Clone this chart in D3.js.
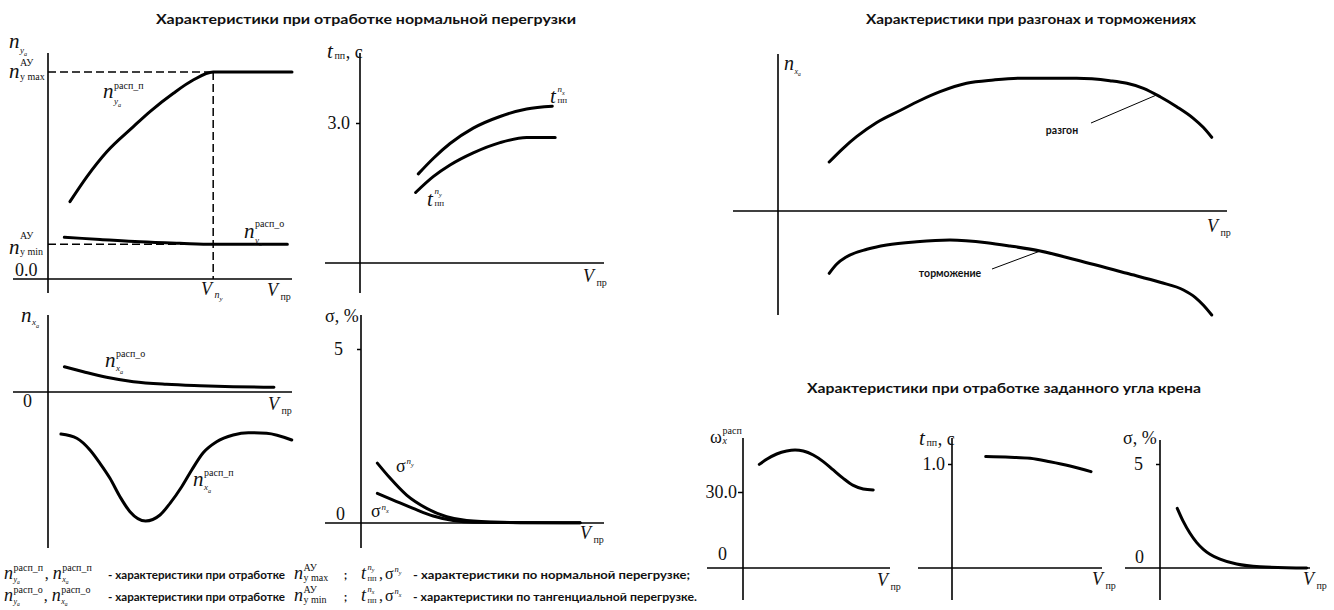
<!DOCTYPE html>
<html><head><meta charset="utf-8">
<script src="https://cdn.jsdelivr.net/npm/d3@7"></script>
<style>
html,body{margin:0;padding:0;background:#fff;}
svg{display:block;}
.serif{font-family:"Liberation Serif","Times New Roman",serif;fill:#111;}
.sans{font-family:Lato,"Open Sans",sans-serif;font-weight:bold;fill:#111;}
</style></head><body>
<svg id="chart" width="1334" height="610"></svg>
<script>
// ---------- data (V_пр in relative units 0..100) ----------
// n_ya, normal load factor
const nyPV   = [9.0, 15.9, 24.1, 35.0, 41.8, 51.4, 59.5, 67.7, 100];
const nyP    = [2.99, 3.95, 4.92, 5.89, 6.47, 7.18, 7.69, 8.0, 8.0];
const nyOV   = [6.7, 21.3, 37.7, 54.1, 67.7, 98.1];
const nyO    = [1.61, 1.53, 1.44, 1.38, 1.34, 1.34];
const nyMaxAU = 8.0, nyMinAU = 1.34, vNy = 67.7;
// transient time, s
const tNxV = [23.9, 30.0, 36.9, 46.4, 57.4, 68.3, 78.8];
const tNx  = [1.91, 2.24, 2.56, 2.89, 3.14, 3.30, 3.36];
const tNyV = [22.8, 30.0, 36.9, 46.4, 57.4, 68.3, 80.0];
const tNy  = [1.51, 1.85, 2.10, 2.36, 2.58, 2.69, 2.69];
// n_xa, tangential load factor
const nxOV = [6.7, 14.5, 24.0, 35.0, 48.6, 62.3, 75.9, 92.6];
const nxO  = [0.253, 0.203, 0.147, 0.103, 0.077, 0.063, 0.053, 0.047];
const nxPV = [5.3, 11.8, 17.2, 21.3, 25.4, 29.5, 33.6, 40.0, 45.9, 50.0, 54.8, 58.9, 63.6, 69.1, 75.9, 82.1, 89.6, 99.9];
const nxP  = [-0.42, -0.463, -0.58, -0.713, -0.863, -1.047, -1.197, -1.29, -1.23, -1.113, -0.947, -0.78, -0.607, -0.497, -0.43, -0.407, -0.413, -0.48];
// overshoot, %
const sNyV = [6.7, 11.9, 18.7, 26.9, 35.1, 43.3, 57.0, 70.6, 89.8];
const sNy  = [1.72, 1.29, 0.80, 0.42, 0.18, 0.07, 0.02, 0.01, 0.01];
const sNxV = [6.7, 13.2, 21.4, 29.6, 37.8, 46.0, 89.8];
const sNx  = [0.85, 0.66, 0.42, 0.20, 0.07, 0.02, 0.01];
// acceleration / deceleration
const accV = [11.4, 14.5, 17.5, 22.0, 27.2, 31.6, 36.1, 42.0, 48.0, 53.9, 59.1, 66.5, 73.9, 77.7, 81.4, 85.1, 88.8, 92.5, 94.7, 96.6];
const acc  = [0.49, 0.627, 0.743, 0.885, 1.005, 1.105, 1.193, 1.277, 1.31, 1.327, 1.327, 1.327, 1.303, 1.277, 1.227, 1.143, 1.043, 0.927, 0.837, 0.737];
const decV = [11.4, 13.1, 15.3, 19.8, 24.2, 30.9, 38.3, 46.5, 51.7, 58.4, 66.5, 77.7, 85.1, 90.3, 92.9, 94.7, 96.6];
const dec  = [-0.623, -0.53, -0.457, -0.383, -0.34, -0.307, -0.29, -0.317, -0.35, -0.40, -0.49, -0.623, -0.713, -0.79, -0.863, -0.94, -1.04];
// roll channel
const wxV = [11.1, 16.1, 22.9, 29.7, 35.4, 41.0, 47.8, 54.6, 61.4, 68.2, 75.0, 81.8, 88.6];
const wx  = [40.9, 42.9, 45.0, 46.2, 46.6, 46.2, 44.6, 42.0, 38.7, 35.4, 32.6, 31.2, 30.8];
const tgV = [22.5, 38.7, 52.0, 65.3, 78.7, 92.7];
const tg  = [1.071, 1.065, 1.055, 1.022, 0.981, 0.926];
const sgV = [11.5, 15.5, 20.0, 24.5, 28.9, 33.3, 40.0, 51.1, 66.7, 97.8];
const sg  = [2.87, 2.24, 1.67, 1.22, 0.90, 0.66, 0.43, 0.19, 0.06, 0.0];
// tick labels
const ticksB = [3.0], ticksD = [5], ticksF = [30.0], ticksG = [1.0], ticksH = [5];
const titles = ["Характеристики при отработке нормальной перегрузки",
                "Характеристики при разгонах и торможениях",
                "Характеристики при отработке заданного угла крена"];

// ---------- layout ----------
const svg = d3.select('#chart');
const zip = (a, b) => a.map((v, i) => [v, b[i]]);

function panel(L) {
  const g = svg.append('g');
  const x = d3.scaleLinear([0, 100], [L.ox, L.x100]);
  const y = d3.scaleLinear([0, L.yv], [L.oy, L.yp]);
  g.append('line').attr('x1', L.xl).attr('x2', L.xr).attr('y1', L.oy).attr('y2', L.oy)
    .attr('stroke', '#000').attr('stroke-width', 1.6);
  g.append('line').attr('x1', L.ox).attr('x2', L.ox).attr('y1', L.yt).attr('y2', L.yb)
    .attr('stroke', '#000').attr('stroke-width', 1.6);
  const line = d3.line().x(d => x(d[0])).y(d => y(d[1])).curve(d3.curveMonotoneX);
  const curve = (vs, ys) => g.append('path').attr('d', line(zip(vs, ys)))
    .attr('fill', 'none').attr('stroke', '#000').attr('stroke-width', 3).attr('stroke-linecap', 'round');
  const ticks = (vals, size, pad, fmt) => {
    const ax = g.append('g').attr('transform', `translate(${L.ox},0)`)
      .call(d3.axisLeft(y).tickValues(vals).tickSize(size).tickPadding(pad).tickFormat(fmt));
    ax.select('.domain').remove();
    ax.selectAll('line').attr('stroke', '#000').attr('stroke-width', 1.5);
    ax.selectAll('text').attr('class', 'serif').attr('fill', '#111').style('font-size', '18px');
  };
  return {g, x, y, curve, ticks};
}

// text helpers
function runs(g, x, y, list, cls) {
  const t = g.append('text').attr('class', cls || 'serif').attr('x', x).attr('y', y);
  let cur = 0;
  list.forEach(r => {
    const d = (r.dy || 0) - cur; cur = r.dy || 0;
    t.append('tspan').attr('dy', d).style('font-size', r.s + 'px')
      .style('font-style', r.i ? 'italic' : 'normal').text(r.t);
  });
  return t;
}
const W = sel => sel.node().getBBox().width;
function sym(g, x, y, o) {
  const size = o.size || 21;
  const m = runs(g, x, y, [{t: o.m, s: size, i: o.mi !== false}]);
  const xs = x + W(m) + (o.gap == null ? 0.5 : o.gap);
  let end = xs;
  if (o.sup) { const s = runs(g, xs, y + (o.supDy == null ? -size * 0.5 : o.supDy), o.sup); end = Math.max(end, xs + W(s)); }
  if (o.sub) { const s = runs(g, xs, y + (o.subDy == null ? size * 0.25 : o.subDy), o.sub); end = Math.max(end, xs + W(s)); }
  if (o.after) { const a = runs(g, end, y, o.after); end += W(a); }
  return end;
}
const subYa = (s) => [{t: 'y', s: s, i: true}, {t: 'a', s: s * 0.7, i: true, dy: s * 0.3}];
const subXa = (s) => [{t: 'x', s: s, i: true}, {t: 'a', s: s * 0.7, i: true, dy: s * 0.3}];
const supN = (c, s) => [{t: 'n', s: s, i: true}, {t: c, s: s * 0.7, i: true, dy: s * 0.3}];
const Vpr = (g, x, y) => sym(g, x, y, {m: 'V', size: 18, sub: [{t: 'пр', s: 10}], subDy: 4});
const plain = (g, x, y, t, s) => runs(g, x, y, [{t: t, s: s || 18}]);
function sansText(g, x, y, t, size, len, anchor) {
  const e = g.append('text').attr('class', 'sans').attr('x', x).attr('y', y)
    .style('font-size', size + 'px').text(t);
  if (anchor) e.attr('text-anchor', anchor);
  if (len) e.attr('textLength', len).attr('lengthAdjust', 'spacingAndGlyphs');
  return e;
}

// ---------- titles ----------
sansText(svg, 156, 24, titles[0], 13.5, 420);
sansText(svg, 866, 24, titles[1], 13.5, 330);
sansText(svg, 807, 393, titles[2], 13.5, 394);

// ---------- A: n_ya ----------
{
  const P = panel({ox: 48, x100: 292, oy: 279, yv: 8, yp: 72, xl: 13, xr: 292, yt: 53, yb: 293});
  const dash = (x1, y1, x2, y2) => P.g.append('line').attr('x1', x1).attr('y1', y1).attr('x2', x2).attr('y2', y2)
    .attr('stroke', '#000').attr('stroke-width', 1.5).attr('stroke-dasharray', '8,4');
  dash(P.x(0), P.y(nyMaxAU), P.x(vNy), P.y(nyMaxAU));
  dash(P.x(vNy), P.y(nyMaxAU), P.x(vNy), P.y(0));
  dash(P.x(0), P.y(nyMinAU), P.x(vNy), P.y(nyMinAU));
  P.curve(nyPV, nyP);
  P.curve(nyOV, nyO);
  const g = P.g;
  sym(g, 9, 48, {m: 'n', sub: subYa(9), subDy: 5});
  sym(g, 9, 78, {m: 'n', sup: [{t: 'АУ', s: 10}], supDy: -12, sub: [{t: 'y max', s: 10}], subDy: 1.5});
  sym(g, 9, 254, {m: 'n', sup: [{t: 'АУ', s: 10}], supDy: -15, sub: [{t: 'y min', s: 10}], subDy: 1});
  plain(g, 15, 276, '0.0');
  sym(g, 103, 98, {m: 'n', sup: [{t: 'расп_п', s: 10}], supDy: -9, sub: subYa(9), subDy: 6});
  sym(g, 244, 238, {m: 'n', sup: [{t: 'расп_о', s: 10}], supDy: -11, sub: subYa(9), subDy: 5});
  sym(g, 201, 295, {m: 'V', size: 18, sub: [{t: 'n', s: 10, i: true}, {t: 'y', s: 7, i: true, dy: 3}], subDy: 3});
  Vpr(g, 267, 296);
}

// ---------- B: t_пп ----------
{
  const P = panel({ox: 360, x100: 604, oy: 263, yv: 3, yp: 123, xl: 325, xr: 604, yt: 53, yb: 293});
  P.ticks(ticksB, 4, 6, d3.format('.1f'));
  P.curve(tNxV, tNx);
  P.curve(tNyV, tNy);
  const g = P.g;
  sym(g, 327, 58, {m: 't', sub: [{t: 'пп', s: 10}], subDy: 1, after: [{t: ', с', s: 18}]});
  sym(g, 550, 103, {m: 't', sup: supN('x', 9), supDy: -11, sub: [{t: 'пп', s: 9}], subDy: 0});
  sym(g, 427, 206, {m: 't', sup: supN('y', 9), supDy: -12, sub: [{t: 'пп', s: 9}], subDy: 0});
  Vpr(g, 583, 282);
}

// ---------- C: n_xa ----------
{
  const P = panel({ox: 48, x100: 292, oy: 392, yv: 1, yp: 292, xl: 13, xr: 292, yt: 315, yb: 548});
  P.curve(nxOV, nxO);
  P.curve(nxPV, nxP);
  const g = P.g;
  sym(g, 21, 322, {m: 'n', sub: subXa(9), subDy: 3});
  plain(g, 23, 407, '0');
  Vpr(g, 268, 410);
  sym(g, 105, 367, {m: 'n', sup: [{t: 'расп_о', s: 10}], supDy: -10, sub: subXa(9), subDy: 4});
  sym(g, 193, 486, {m: 'n', sup: [{t: 'расп_п', s: 10}], supDy: -10, sub: subXa(9), subDy: 4});
}

// ---------- D: σ ----------
{
  const P = panel({ox: 361, x100: 605, oy: 523, yv: 5, yp: 349, xl: 325, xr: 604, yt: 315, yb: 548});
  P.ticks(ticksD, 4, 14, d3.format('d'));
  P.curve(sNyV, sNy);
  P.curve(sNxV, sNx);
  const g = P.g;
  plain(g, 325, 322, 'σ, %');
  plain(g, 336, 520, '0');
  sym(g, 396, 472, {m: 'σ', mi: false, size: 18, sup: supN('y', 9), supDy: -8});
  sym(g, 371, 517, {m: 'σ', mi: false, size: 18, sup: supN('x', 9), supDy: -7});
  Vpr(g, 580, 539);
}

// ---------- E: acceleration / deceleration ----------
{
  const P = panel({ox: 778, x100: 1227, oy: 211, yv: 1, yp: 111, xl: 733, xr: 1227, yt: 54, yb: 315});
  P.curve(accV, acc);
  P.curve(decV, dec);
  const g = P.g;
  sym(g, 784, 70, {m: 'n', size: 20, sub: subXa(8), subDy: 4});
  Vpr(g, 1207, 232);
  const lead = (v, val, x2, y2) => g.append('line').attr('x1', P.x(v)).attr('y1', P.y(val))
    .attr('x2', x2).attr('y2', y2).attr('stroke', '#000').attr('stroke-width', 1);
  lead(84.3, 1.16, 1091, 123);
  lead(58.4, -0.40, 992, 269);
  sansText(g, 1062, 134, 'разгон', 10.5, null, 'middle');
  sansText(g, 950, 277, 'торможение', 10.5, null, 'middle');
}

// ---------- F: ω_x ----------
{
  const P = panel({ox: 743, x100: 890, oy: 568, yv: 30, yp: 492, xl: 707, xr: 890, yt: 438, yb: 600});
  P.ticks(ticksF, 5, 1, d3.format('.1f'));
  P.curve(wxV, wx);
  const g = P.g;
  sym(g, 710, 443, {m: 'ω', mi: false, size: 18, sup: [{t: 'расп', s: 10}], supDy: -9, sub: [{t: 'x', s: 10, i: true}], subDy: 1});
  plain(g, 718, 560, '0');
  Vpr(g, 877, 586);
}

// ---------- G: t_пп ----------
{
  const P = panel({ox: 952, x100: 1102, oy: 568, yv: 1, yp: 464, xl: 918, xr: 1102, yt: 438, yb: 600});
  P.ticks(ticksG, 4, 3, d3.format('.1f'));
  P.curve(tgV, tg);
  const g = P.g;
  sym(g, 919, 445, {m: 't', sub: [{t: 'пп', s: 10}], subDy: 1, after: [{t: ', с', s: 18}]});
  Vpr(g, 1092, 585);
}

// ---------- H: σ ----------
{
  const P = panel({ox: 1160, x100: 1310, oy: 568, yv: 5, yp: 464, xl: 1125, xr: 1310, yt: 440, yb: 600});
  P.ticks(ticksH, 4, 13, d3.format('d'));
  P.curve(sgV, sg);
  const g = P.g;
  plain(g, 1123, 444, 'σ, %');
  plain(g, 1135, 563, '0');
  Vpr(g, 1303, 585);
}

// ---------- notes ----------
{
  const g = svg.append('g');
  const nS = 18, sS = 10;
  const rows = [
    {y: 579, c: 'расп_п', au: 'y max', nc: 'y', txt: '- характеристики по нормальной перегрузке;', len: 277},
    {y: 601, c: 'расп_о', au: 'y min', nc: 'x', txt: '- характеристики по тангенциальной перегрузке.', len: 284}
  ];
  rows.forEach(r => {
    let e = sym(g, 4, r.y, {m: 'n', size: nS, sup: [{t: r.c, s: sS}], supDy: -8, sub: subYa(8), subDy: 3});
    runs(g, e + 1, r.y, [{t: ',', s: 16}]);
    const e1 = sym(g, e + 9, r.y, {m: 'n', size: nS, sup: [{t: r.c, s: sS}], supDy: -8, sub: subXa(8), subDy: 3});
    sansText(g, Math.max(e1 + 2, 108), r.y, '- характеристики при отработке', 11.5, 177);
    sym(g, 294, r.y, {m: 'n', size: nS, sup: [{t: 'АУ', s: sS}], supDy: -8, sub: [{t: r.au, s: sS}], subDy: 2});
    sansText(g, 344, r.y, ';', 11.5);
    let e2 = sym(g, 361, r.y, {m: 't', size: nS, sup: supN(r.nc, 8.5), supDy: -9.5, sub: [{t: 'пп', s: 8.5}], subDy: 2});
    runs(g, e2 + 2, r.y, [{t: ',', s: 16}]);
    sym(g, e2 + 8, r.y, {m: 'σ', mi: false, size: 16, sup: supN(r.nc, 8.5), supDy: -7});
    sansText(g, 413, r.y, r.txt, 11.5, r.len);
  });
}
</script>
</body></html>
